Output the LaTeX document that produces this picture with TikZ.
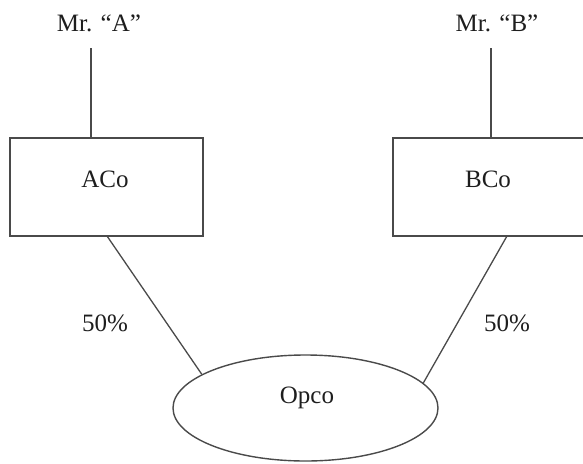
\documentclass[tikz,border=0pt]{standalone}
\usepackage{fontspec}
\setmainfont{Liberation Serif}
\usetikzlibrary{shapes.geometric}
\definecolor{linegray}{HTML}{4A4A4A}
\definecolor{txt}{HTML}{1E1E1E}
\begin{document}
\begin{tikzpicture}[x=1pt,y=-1pt,
  conn/.style={draw=linegray,line width=1.3pt},
  boxnode/.style={draw=linegray,line width=1.4pt,rectangle,minimum width=193pt,minimum height=98pt,inner sep=0pt},
  ovalnode/.style={draw=linegray,line width=1.4pt,ellipse,minimum width=265pt,minimum height=106pt,inner sep=0pt},
  lbl/.style={text=txt,font=\fontsize{25}{30}\selectfont,anchor=base,inner sep=0pt}]
\clip (0,0) rectangle (583,463);
\fill[white] (0,0) rectangle (583,463);
% boxes and ellipse
\node[boxnode] (boxA) at (106.5,187) {};
\node[boxnode] (boxB) at (489.5,187) {};
\node[ovalnode] (opco) at (305.5,408) {};
% texts
\node[lbl] (mrA) at (99,31) {Mr. “A”};
\node[lbl] (mrB) at (497,31) {Mr. “B”};
\node[lbl] (tA) at (105,187) {ACo};
\node[lbl] (tB) at (488,187) {BCo};
\node[lbl] (tO) at (307,403) {Opco};
\node[lbl] (pA) at (105,331) {50\%};
\node[lbl] (pB) at (507,331) {50\%};
% connectors
\coordinate (topA) at (91,48);
\coordinate (topB) at (491,48);
\coordinate (footA) at (107,236);
\coordinate (footB) at (507,236);
\draw[conn] (topA) -- (topA |- boxA.north);
\draw[conn] (topB) -- (topB |- boxB.north);
\draw[conn] (footA) -- (opco.162);
\draw[conn] (footB) -- (opco.12);
\end{tikzpicture}
\end{document}
